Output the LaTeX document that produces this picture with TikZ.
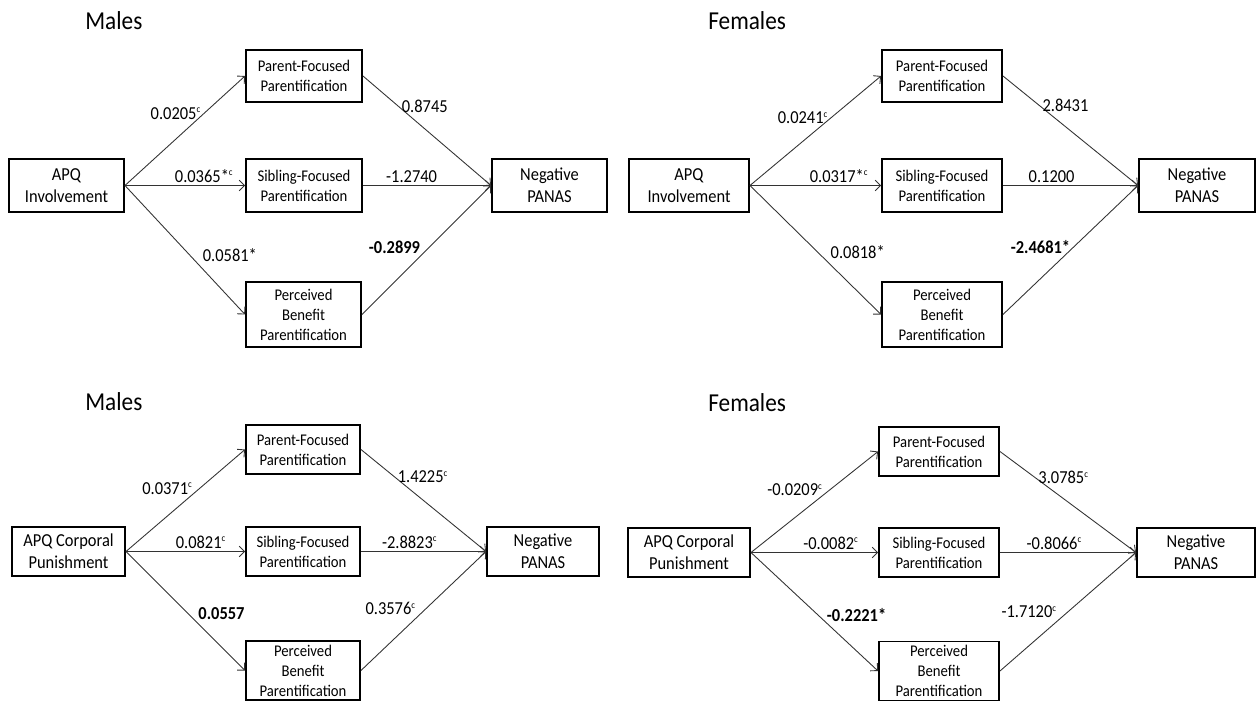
\documentclass[tikz,border=0pt]{standalone}
\usepackage{fontspec}
\setmainfont{Carlito}[FakeStretch=0.9]
\usetikzlibrary{arrows.meta,positioning}

\newcommand{\supc}{\textsuperscript{\fontsize{5.5}{6}\selectfont c}}

\begin{document}
\begin{tikzpicture}[
  bx/.style={draw, line width=1.1pt, align=center, inner sep=0pt,
             minimum width=2.3cm, minimum height=1.06cm,
             font=\fontsize{10.4}{12.4}\selectfont},
  med/.style={bx, font=\fontsize{9.3}{11.4}\selectfont},
  lab/.style={font=\fontsize{10.4}{11}\selectfont, text=black, inner sep=1.5pt},
  ttl/.style={font=\fontsize{14.7}{16}\selectfont, anchor=base west, inner sep=0pt},
  fl/.style={-{Straight Barb[length=3pt,width=6pt]}, line width=0.5pt, black!80}]

\useasboundingbox (0,0) rectangle (25.12,-14.04);

% (a) involvement, males
\node[ttl] (ta) at (1.70,-0.59) {Males};
\node[bx] (apqa) at (1.33,-3.71) {APQ\\Involvement};
\node[med, minimum width=2.32cm, minimum height=1.04cm] (pfa) at (6.08,-1.52) {Parent-Focused\\Parentification};
\node[med, minimum width=2.32cm] (sfa) at (6.08,-3.71) {Sibling-Focused\\Parentification};
\node[med, minimum height=1.30cm] (pba) at (6.07,-6.29) {Perceived\\Benefit\\Parentification};
\node[bx] (npa) at (10.99,-3.71) {Negative\\PANAS};
\draw[fl] (apqa.east) -- node[lab, pos=0.66, anchor=east] {0.0205\supc} (pfa.west);
\draw[fl] (apqa.east) -- node[lab, pos=0.66, above] {0.0365*\supc} (sfa.west);
\draw[fl] (apqa.east) -- node[lab, pos=0.54, anchor=west, xshift=0.2cm] {0.0581*} (pba.west);
\draw[fl] (pfa.east) -- node[lab, pos=0.28, anchor=west] {0.8745} (npa.west);
\draw[fl] (sfa.east) -- node[lab, pos=0.38, above] {-1.2740} (npa.west);
\draw[fl] (pba.east) -- node[lab, pos=0.52, anchor=east, xshift=-0.12cm] {\textbf{-0.2899}} (npa.west);

% (b) involvement, females
\node[ttl] (tb) at (14.16,-0.60) {Females};
\node[bx, minimum width=2.40cm] (apqb) at (13.78,-3.71) {APQ\\Involvement};
\node[med, minimum width=2.40cm, minimum height=1.04cm] (pfb) at (18.84,-1.52) {Parent-Focused\\Parentification};
\node[med, minimum width=2.40cm] (sfb) at (18.84,-3.71) {Sibling-Focused\\Parentification};
\node[med, minimum width=2.40cm, minimum height=1.30cm] (pbb) at (18.84,-6.29) {Perceived\\Benefit\\Parentification};
\node[bx, minimum width=2.32cm] (npb) at (23.94,-3.71) {Negative\\PANAS};
\draw[fl] (apqb.east) -- node[lab, pos=0.62, anchor=east] {0.0241\supc} (pfb.west);
\draw[fl] (apqb.east) -- node[lab, pos=0.68, above] {0.0317*\supc} (sfb.west);
\draw[fl] (apqb.east) -- node[lab, pos=0.52, anchor=west, xshift=0.19cm] {0.0818*} (pbb.west);
\draw[fl] (pfb.east) -- node[lab, pos=0.27, anchor=west] {2.8431} (npb.west);
\draw[fl] (sfb.east) -- node[lab, pos=0.36, above] {0.1200} (npb.west);
\draw[fl] (pbb.east) -- node[lab, pos=0.52, anchor=east] {\textbf{-2.4681*}} (npb.west);

% (c) corporal punishment, males
\node[ttl] (tc) at (1.70,-8.20) {Males};
\node[bx, minimum width=2.26cm, minimum height=0.98cm] (apqc) at (1.37,-11.03) {APQ Corporal\\Punishment};
\node[med, minimum width=2.28cm, minimum height=0.98cm] (pfc) at (6.06,-8.99) {Parent-Focused\\Parentification};
\node[med, minimum width=2.28cm, minimum height=0.98cm] (sfc) at (6.06,-11.03) {Sibling-Focused\\Parentification};
\node[med, minimum width=2.28cm, minimum height=1.18cm] (pbc) at (6.06,-13.41) {Perceived\\Benefit\\Parentification};
\node[bx, minimum width=2.24cm, minimum height=0.98cm] (npc) at (10.86,-11.03) {Negative\\PANAS};
\draw[fl] (apqc.east) -- node[lab, pos=0.62, anchor=east, xshift=-0.08cm] {0.0371\supc} (pfc.west);
\draw[fl] (apqc.east) -- node[lab, pos=0.63, above] {0.0821\supc} (sfc.west);
\draw[fl] (apqc.east) -- node[lab, pos=0.52, anchor=west, xshift=0.15cm] {\textbf{0.0557}} (pbc.west);
\draw[fl] (pfc.east) -- node[lab, pos=0.27, anchor=west] {1.4225\supc} (npc.west);
\draw[fl] (sfc.east) -- node[lab, pos=0.39, above] {-2.8823\supc} (npc.west);
\draw[fl] (pbc.east) -- node[lab, pos=0.52, anchor=east, xshift=-0.14cm] {0.3576\supc} (npc.west);

% (d) corporal punishment, females
\node[ttl] (td) at (14.16,-8.22) {Females};
\node[bx, minimum width=2.44cm, minimum height=0.98cm] (apqd) at (13.78,-11.05) {APQ Corporal\\Punishment};
\node[med, minimum width=2.40cm, minimum height=0.98cm] (pfd) at (18.78,-9.03) {Parent-Focused\\Parentification};
\node[med, minimum width=2.40cm, minimum height=0.98cm] (sfd) at (18.78,-11.05) {Sibling-Focused\\Parentification};
\node[med, minimum width=2.40cm, minimum height=1.18cm] (pbd) at (18.78,-13.42) {Perceived\\Benefit\\Parentification};
\node[bx, minimum width=2.36cm, minimum height=0.98cm] (npd) at (23.92,-11.05) {Negative\\PANAS};
\draw[fl] (apqd.east) -- node[lab, pos=0.62, anchor=east, xshift=-0.08cm] {-0.0209\supc} (pfd.west);
\draw[fl] (apqd.east) -- node[lab, pos=0.63, above] {-0.0082\supc} (sfd.west);
\draw[fl] (apqd.east) -- node[lab, pos=0.53, anchor=west, xshift=0.11cm] {\textbf{-0.2221*}} (pbd.west);
\draw[fl] (pfd.east) -- node[lab, pos=0.26, anchor=west] {3.0785\supc} (npd.west);
\draw[fl] (sfd.east) -- node[lab, pos=0.40, above] {-0.8066\supc} (npd.west);
\draw[fl] (pbd.east) -- node[lab, pos=0.50, anchor=east, xshift=-0.16cm] {-1.7120\supc} (npd.west);
\end{tikzpicture}
\end{document}
